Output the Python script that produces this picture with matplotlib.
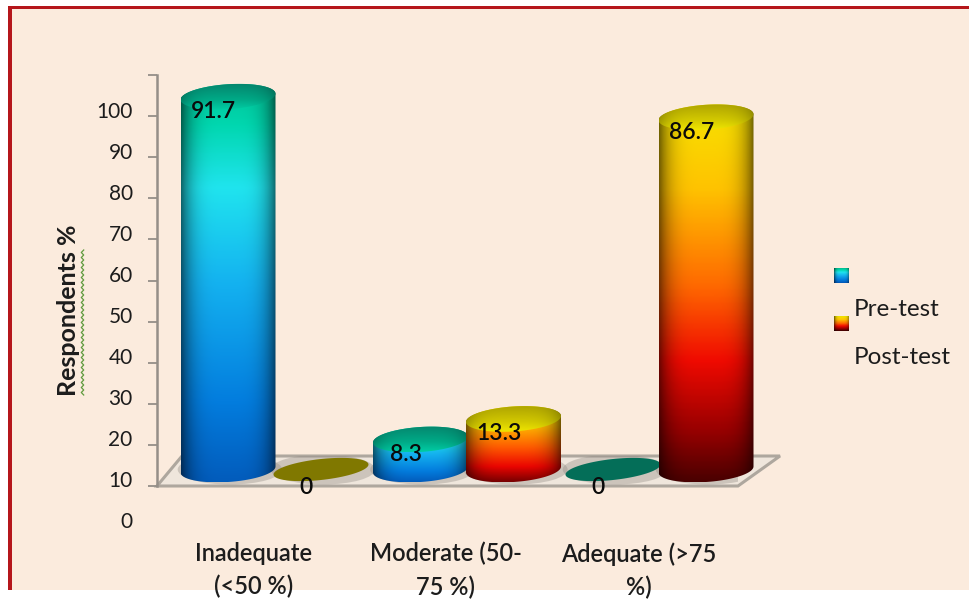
#! /usr/bin/env python3

import numpy as np
import matplotlib
matplotlib.use("Agg")
import matplotlib.pyplot as plt
import matplotlib.patches as patches
from matplotlib.colors import LinearSegmentedColormap
from matplotlib.transforms import ScaledTranslation

categories = ["Inadequate\n(<50 %)", "Moderate (50-\n75 %)", "Adequate (>75\n%)"]
pre_test = [91.7, 8.3, 0]
post_test = [0, 13.3, 86.7]
series_names = ["Pre-test", "Post-test"]
y_ticks = [0, 10, 20, 30, 40, 50, 60, 70, 80, 90, 100]

plt.rcParams['font.family'] = ['Lato', 'DejaVu Sans']

W, H = 969, 600
DPI = 100
TEXT = "#1c1c1c"
CREAM = "#fbebdd"

# layout in pixels of the picture
AX_L, AX_R, AX_T, AX_B = 157, 738, 75, 486
PX_Y = (AX_B - AX_T) / 100.0   # pixels per y unit
PX_X = 192.5                   # pixels per category
GROUP0 = 274.5                 # pixel of first category centre

BAR_OFF = 46.5 / PX_X
BAR_A = 47.5 / PX_X
CAP_B = 12.5 / PX_Y
CAP_TILT = 3.0 / PX_Y
DISC_B = 10.5 / PX_Y
DISC_TILT = 5.0 / PX_Y
BASE = 16.5 / PX_Y
TOP_DROP = 1.0   # cylinder tops sit a bit under the value in the 3d view

pre_body = [(0, (2, 92, 188)), (0.2, (3, 125, 222)), (0.5, (20, 178, 240)),
            (0.74, (32, 228, 238)), (0.9, (0, 215, 175)), (1, (0, 195, 150))]
post_body = [(0, (75, 0, 0)), (0.13, (150, 0, 0)), (0.32, (240, 10, 0)),
             (0.52, (255, 105, 0)), (0.78, (255, 195, 0)), (0.92, (250, 215, 0)),
             (1, (240, 225, 0))]
post_short = [(0, (120, 0, 0)), (0.2, (235, 5, 0)), (0.45, (255, 90, 0)),
              (0.75, (255, 190, 0)), (1, (240, 230, 0))]
pre_cap = [(0, (0, 205, 165)), (0.4, (0, 170, 135)), (1, (5, 135, 110))]
post_cap = [(0, (240, 230, 0)), (0.4, (210, 200, 0)), (1, (175, 165, 0))]
disc_colors = ["#807800", "#046e58"]


def make_cmap(stops):
    return LinearSegmentedColormap.from_list(
        "g", [(f, tuple(c / 255 for c in rgb)) for f, rgb in stops])


def gradient_image(stops, shade=0.6, n=200):
    # rows go bottom to top, edges of the cylinder get darker
    rows = make_cmap(stops)(np.linspace(0, 1, n))[:, :3]
    u = np.linspace(-1, 1, 120)
    side = 1 - shade * np.abs(u) ** 4
    return rows[:, None, :] * side[None, :, None]


def ellipse(cx, cy, t, b=CAP_B, tilt=CAP_TILT):
    return np.column_stack([cx + BAR_A * np.cos(t),
                            cy + b * np.sin(t) + tilt * np.cos(t)])


def paint(ax, verts, stops, shade=0.55):
    x0, x1 = verts[:, 0].min(), verts[:, 0].max()
    y0, y1 = verts[:, 1].min(), verts[:, 1].max()
    im = ax.imshow(gradient_image(stops, shade), origin="lower", aspect="auto",
                   extent=(x0, x1, y0, y1), interpolation="bilinear", zorder=3)
    im.set_clip_box(fig.bbox)
    im.set_clip_path(patches.Polygon(verts, closed=True, transform=ax.transData))


def cylinder(ax, x, value, body, cap, disc):
    if value == 0:
        ax.add_patch(patches.Polygon(ellipse(x, BASE, np.linspace(0, 2 * np.pi, 80),
                                             DISC_B, DISC_TILT),
                                     closed=True, fc=disc, ec="none",
                                     zorder=3, clip_on=False))
        return
    top = BASE + value - TOP_DROP
    lower = ellipse(x, BASE, np.linspace(np.pi, 2 * np.pi, 50))
    upper = ellipse(x, top, np.linspace(0, np.pi, 50))
    paint(ax, np.vstack([lower, upper]), body)
    paint(ax, ellipse(x, top, np.linspace(0, 2 * np.pi, 80)), cap, shade=0.25)


fig = plt.figure(figsize=(W / DPI, H / DPI), dpi=DPI, facecolor="white")

# cream page with the red frame on top and left
fig.add_artist(patches.Rectangle((10 / W, 1 - 590 / H), (W - 10) / W, 582 / H,
                                 transform=fig.transFigure, fc=CREAM, ec="none", zorder=-3))
fig.add_artist(patches.Rectangle((8 / W, 1 - 590 / H), 4 / W, 584 / H,
                                 transform=fig.transFigure, fc="#b5161b", ec="none", zorder=-2))
fig.add_artist(patches.Rectangle((8 / W, 1 - 9 / H), (W - 8) / W, 3 / H,
                                 transform=fig.transFigure, fc="#b5161b", ec="none", zorder=-2))

ax = fig.add_axes([AX_L / W, 1 - AX_B / H, (AX_R - AX_L) / W, (AX_B - AX_T) / H])
ax.patch.set_visible(False)

for s in ["top", "right", "bottom"]:
    ax.spines[s].set_visible(False)
ax.spines["left"].set_color("#958f88")
ax.spines["left"].set_linewidth(1.8)

# floor of the 3d chart
xmin = (AX_L - GROUP0) / PX_X
xmax = (AX_R - GROUP0) / PX_X
floor_dx = 25 / PX_X
floor_h = 30 / PX_Y
floor_r = 42 / PX_X
floor = patches.Polygon([(xmin, 0), (xmin + floor_dx, floor_h),
                         (xmax + floor_r, floor_h), (xmax, 0)], closed=True,
                        fc="#efe6dc", ec="#aea79e", lw=2.2, zorder=1, clip_on=False)
ax.add_patch(floor)

# soft shadows on the floor
for i in range(len(categories)):
    for off in (-BAR_OFF, BAR_OFF):
        sh = patches.Ellipse((i + off + 0.01, BASE), BAR_A * 2.2, CAP_B * 2.4, fc="#8d8780",
                             ec="none", alpha=0.35, zorder=2)
        ax.add_patch(sh)
        sh.set_clip_path(floor)

for i in range(len(categories)):
    cylinder(ax, i - BAR_OFF, pre_test[i], pre_body, pre_cap, disc_colors[1])
    post_stops = post_short if post_test[i] < 20 else post_body
    cylinder(ax, i + BAR_OFF, post_test[i], post_stops, post_cap, disc_colors[0])

# value labels, set off to the left of each cylinder's top
for i in range(len(categories)):
    for off, v in ((-BAR_OFF, pre_test[i]), (BAR_OFF, post_test[i])):
        dy = -17.5 if v == 0 else -15
        top = BASE if v == 0 else BASE + v - TOP_DROP
        ax.annotate("{:g}".format(v), (i + off, top),
                    xytext=(-14.5 * 72 / DPI, dy * 72 / DPI), textcoords="offset points",
                    ha="center", va="center", fontsize=16.5, fontweight="semibold",
                    color="#0a0a0a", zorder=5)

ax.set_xlim(xmin, xmax)
ax.set_ylim(0, 100)

# tick labels sit 35 px below their ticks in the reference
ax.set_yticks(y_ticks)
ax.set_yticklabels([str(v) for v in y_ticks], fontsize=15, color=TEXT)
ax.tick_params(axis="y", length=6.5, width=1.3, color="#958f88", pad=11)
shift_y = ScaledTranslation(0, -34.5 / DPI, fig.dpi_scale_trans)
for lab in ax.get_yticklabels():
    lab.set_transform(lab.get_transform() + shift_y)

ax.set_xticks(range(len(categories)))
ax.set_xticklabels(categories, fontsize=17, fontweight="semibold", color=TEXT,
                   linespacing=1.52, ha="center", va="top")
ax.tick_params(axis="x", length=0, pad=0)
shift_x = ScaledTranslation(-21 / DPI, -56 / DPI, fig.dpi_scale_trans)
for lab in ax.get_xticklabels():
    lab.set_transform(lab.get_transform() + shift_x)

fig.text(69 / W, 1 - 310 / H, "Respondents %", rotation=90, ha="center", va="center",
         fontsize=18, fontweight="bold", color=TEXT)

# spell-check squiggle under the axis title
sq_y = np.arange(250, 396, 2.5)
sq_x = 82.5 + 1.2 * (-1.0) ** np.arange(len(sq_y))
fig.add_artist(plt.Line2D(sq_x / W, 1 - sq_y / H, color="#5f9a3c", lw=0.9,
                          transform=fig.transFigure))

# legend: swatch above and its text lower right, like the original
for k, (name, stops) in enumerate(zip(series_names, (pre_body, post_body))):
    arr = np.clip(gradient_image(stops, shade=0.5, n=15)[:, ::8, :], 0, 1)
    fig.figimage(arr, xo=834, yo=H - (283 + 48 * k), origin="lower", zorder=4)
    fig.text(854 / W, 1 - (309 + 48 * k) / H, name, ha="left", va="center",
             fontsize=17.5, color=TEXT)

fig.savefig("out.png", dpi=DPI, facecolor=fig.get_facecolor())
